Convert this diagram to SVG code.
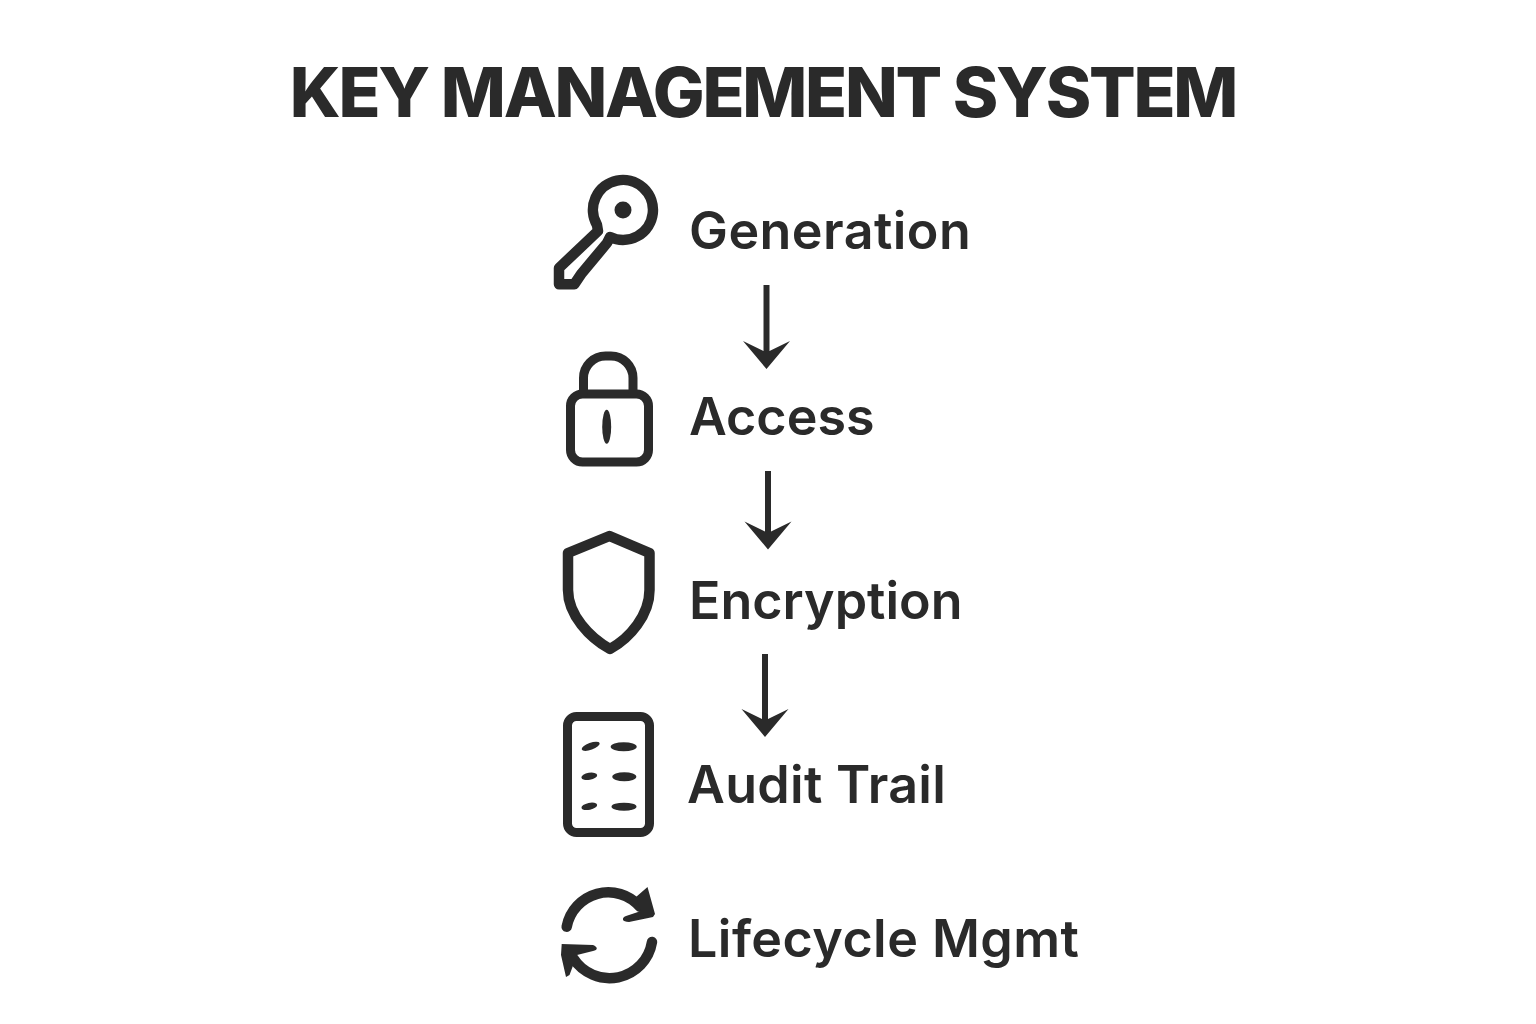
<svg xmlns="http://www.w3.org/2000/svg" width="1536" height="1024" viewBox="0 0 1536 1024">
<style>
text{font-family:"Inter","Liberation Sans",sans-serif;fill:#2a2a2a}
.t{font-size:69px;font-weight:800;letter-spacing:-2.25px}
.l{font-size:52px;font-weight:600}
.i{fill:none;stroke:#2a2a2a;stroke-width:9;stroke-linejoin:round;stroke-linecap:round}
.w{stroke-width:10.5}
.f{fill:#2a2a2a;stroke:none}
.c{stroke:#2a2a2a;stroke-width:6;fill:none}
</style>
<defs>
<marker id="ah" markerUnits="userSpaceOnUse" markerWidth="40" markerHeight="60" refX="-4" refY="0" orient="auto" overflow="visible">
<path d="M-28,-23.5L-18,-3L-18,3L-28,23.5L0,0Z" fill="#2a2a2a"/>
</marker>
</defs>
<rect width="1536" height="1024" fill="#fff"/>
<text id="title" class="t" x="763" y="117" text-anchor="middle">KEY MANAGEMENT SYSTEM</text>
<g id="generation">
<path class="i w" d="M597,225A30,30 0 1 1 610,237L607,243L581.7,273.3L574.3,284.3L559,284.3L559,268L598,231Z"/>
<circle class="f" cx="623" cy="210" r="8.5"/>
<text class="l" x="689" y="249" letter-spacing="0.45">Generation</text>
</g>
<g id="access">
<rect class="i" x="570.5" y="394" width="78" height="68" rx="12"/>
<path class="i" d="M583.5,393V378A22,22 0 0 1 605.5,356H611A22,22 0 0 1 633,378V393"/>
<ellipse class="f" cx="606.7" cy="426.7" rx="4.5" ry="17"/>
<text class="l" x="689" y="435">Access</text>
</g>
<g id="encryption">
<path class="i w" d="M609.5,536L649.5,553V590C649.5,615 630,638 610,649C590,638 568,615 568,590V553Z"/>
<text class="l" x="689" y="619">Encryption</text>
</g>
<g id="audit-trail">
<rect class="i" x="567.5" y="716.5" width="82" height="116" rx="9"/>
<ellipse class="f" cx="590.7" cy="746.3" rx="9.5" ry="3.5" transform="rotate(-20 590.7 746.3)"/>
<ellipse class="f" cx="623.7" cy="746.7" rx="13" ry="4.5"/>
<ellipse class="f" cx="589.3" cy="776.3" rx="8" ry="3.5" transform="rotate(-10 589.3 776.3)"/>
<ellipse class="f" cx="624.3" cy="776.7" rx="12" ry="4.5"/>
<ellipse class="f" cx="589.3" cy="806.3" rx="8" ry="3.5" transform="rotate(-12 589.3 806.3)"/>
<ellipse class="f" cx="624" cy="806.7" rx="12.5" ry="4"/>
<text class="l" x="687" y="803" letter-spacing="0.3">Audit Trail</text>
</g>
<g id="lifecycle-mgmt">
<path class="i w" d="M566.7,926.7A42.3,42.3 0 0 1 640,906.7"/>
<path class="f" d="M647.5,887L655,914L653,917L629,922C622,922 621,918 626,916L641,911L636,897Z"/>
<path class="i w" d="M652,942A43,43 0 0 1 573.3,958.3"/>
<path class="f" d="M561.7,944L593,945C598,947 598,950 593,951L577,955L569.5,975L566,977L561,955Z"/>
<text class="l" x="688" y="957" letter-spacing="0.45">Lifecycle Mgmt</text>
</g>
<g id="connectors">
<line class="c" x1="766.5" y1="285" x2="766.5" y2="365" marker-end="url(#ah)"/>
<line class="c" x1="768" y1="471" x2="768" y2="545.5" marker-end="url(#ah)"/>
<line class="c" x1="765" y1="654" x2="765" y2="733" marker-end="url(#ah)"/>
</g>
</svg>
